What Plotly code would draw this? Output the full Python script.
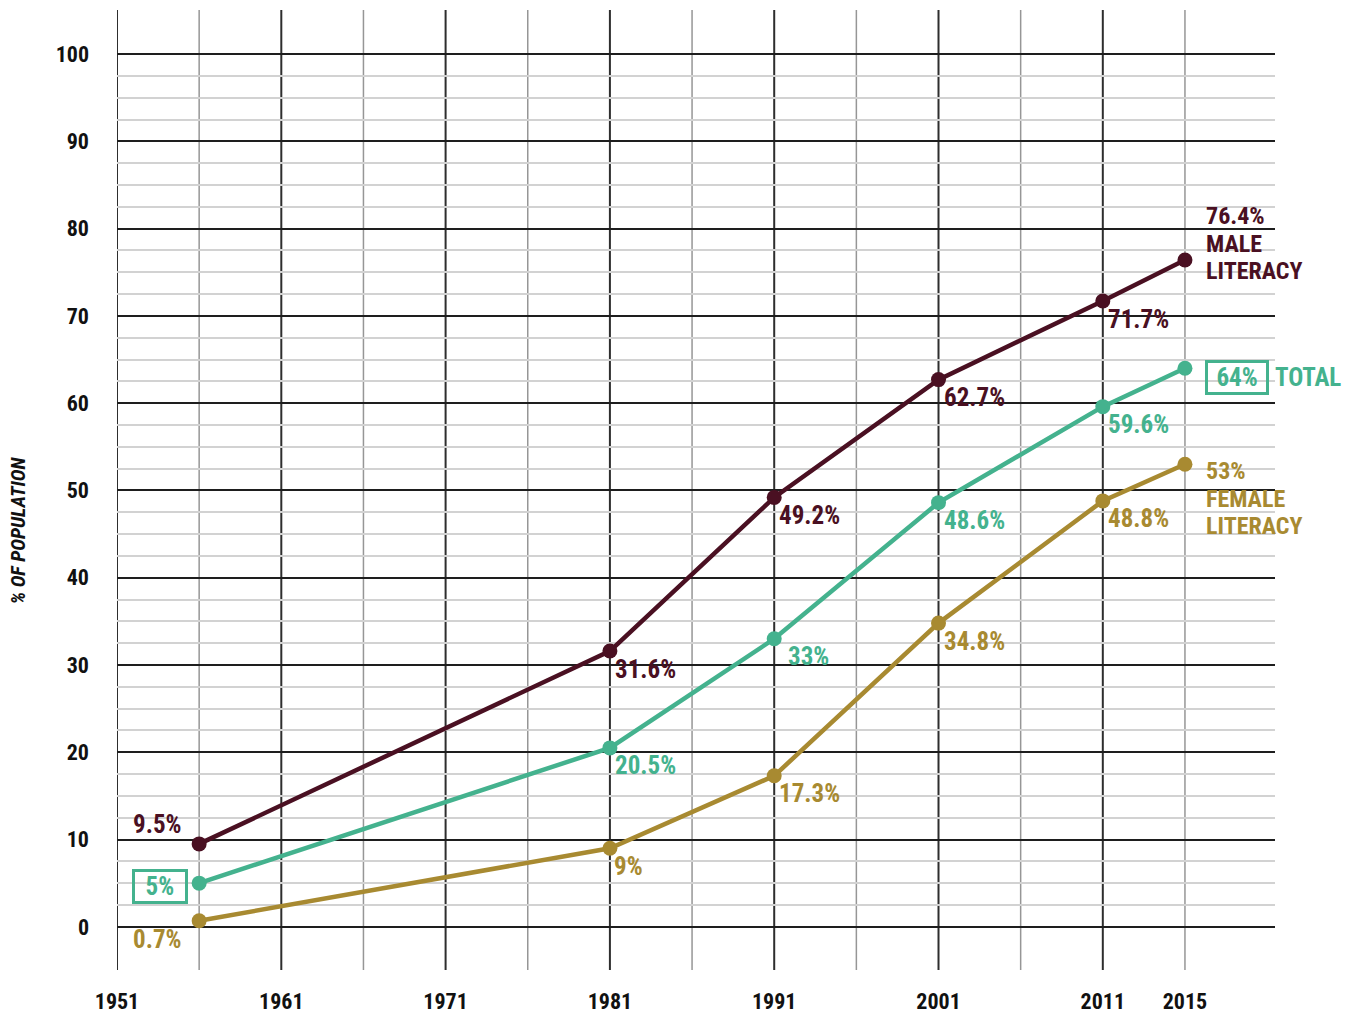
import plotly.graph_objects as go

# ---- data ----
years = [1956, 1981, 1991, 2001, 2011, 2015]
male = [9.5, 31.6, 49.2, 62.7, 71.7, 76.4]
total = [5, 20.5, 33, 48.6, 59.6, 64]
female = [0.7, 9, 17.3, 34.8, 48.8, 53]
tick_years = [1951, 1961, 1971, 1981, 1991, 2001, 2011, 2015]
y_ticks = [0, 10, 20, 30, 40, 50, 60, 70, 80, 90, 100]


def pos(y):
    # the chart's axis gives 2011->2015 the same width as one 5-year slot
    return y if y <= 2011 else 2011 + 5 * (y - 2011) / 4


MAROON = "#4a1022"
TEAL = "#44b28e"
GOLD = "#a88a31"
FONT = "Roboto Condensed, Open Sans Condensed, DejaVu Sans Condensed, sans-serif"

xs = [pos(y) for y in years]

fig = go.Figure()
for vals, col in [(female, GOLD), (total, TEAL), (male, MAROON)]:
    fig.add_trace(go.Scatter(
        x=xs, y=vals, mode="lines+markers",
        line=dict(color=col, width=4.5),
        marker=dict(color=col, size=15),
        hoverinfo="skip", showlegend=False, cliponaxis=False,
    ))

# vertical grid (decades dark, half-decades gray)
for yr in range(1951, 2012, 10):
    fig.add_shape(type="line", xref="x", yref="paper", x0=yr, x1=yr, y0=0, y1=1,
                  line=dict(color="#2e2e2e", width=2), layer="between")
for yr in range(1956, 2017, 10):
    fig.add_shape(type="line", xref="x", yref="paper", x0=yr, x1=yr, y0=0, y1=1,
                  line=dict(color="#969696", width=1.5), layer="between")


def lab(x, y, text, color, xshift=3, yshift=-18, xanchor="left", box=False, size=25):
    d = dict(x=x, y=y, xref="x", yref="y", text=text, showarrow=False,
             xanchor=xanchor, yanchor="middle", xshift=xshift, yshift=yshift,
             font=dict(family=FONT, size=size, color=color, weight="bold"))
    if box:
        d.update(bordercolor=color, borderwidth=3, borderpad=0)
    fig.add_annotation(**d)


def pct(v):
    return f"{v:g}%"


# left-side (first point) labels
lab(xs[0], male[0], pct(male[0]), MAROON, xshift=-15, yshift=19, xanchor="right")
lab(xs[0], total[0], "\u00a0\u2009" + pct(total[0]) + "\u2009\u00a0", TEAL, xshift=-11,
    yshift=-3, xanchor="right", box=True)
lab(xs[0], female[0], pct(female[0]), GOLD, xshift=-15, yshift=-19, xanchor="right")

# middle labels
for i in range(1, 5):
    lab(xs[i], male[i], pct(male[i]), MAROON)
    lab(xs[i], total[i], pct(total[i]), TEAL, xshift=12 if total[i] == 33 else 3)
    lab(xs[i], female[i], pct(female[i]), GOLD, xshift=2 if female[i] == 9 else 3)

# right-end labels
lx = xs[-1]
lab(lx, male[-1], pct(male[-1]), MAROON, xshift=19, yshift=44, size=24)
lab(lx, male[-1], "MALE", MAROON, xshift=19, yshift=16, size=24)
lab(lx, male[-1], "LITERACY", MAROON, xshift=19, yshift=-11, size=24)
lab(lx, total[-1], "\u00a0\u200a" + pct(total[-1]) + "\u200a\u00a0", TEAL, xshift=20,
    yshift=-9, box=True)
lab(lx, total[-1], "TOTAL", TEAL, xshift=88, yshift=-9)
lab(lx, female[-1], pct(female[-1]), GOLD, xshift=19, yshift=-7, size=24)
lab(lx, female[-1], "FEMALE", GOLD, xshift=19, yshift=-35, size=24)
lab(lx, female[-1], "LITERACY", GOLD, xshift=19, yshift=-62, size=24)

# y-axis title
fig.add_annotation(x=-0.0855, y=0.458, xref="paper", yref="paper",
                   xanchor="center", yanchor="middle",
                   text="<i>% OF POPULATION</i>", textangle=-90, showarrow=False,
                   font=dict(family=FONT, size=20, color="#111111", weight="bold"))

minor_y = [v / 2 for v in range(5, 200, 5) if v % 20 != 0]

fig.update_layout(
    width=1349, height=1015,
    margin=dict(l=117, r=74, t=10, b=45, autoexpand=False),
    plot_bgcolor="white", paper_bgcolor="white",
    xaxis=dict(
        range=[1951, 2021.48],
        tickmode="array",
        tickvals=[pos(y) for y in tick_years],
        ticktext=[str(y) for y in tick_years],
        showgrid=False, zeroline=False, showline=False, ticks="",
        automargin=False,
        ticklabelstandoff=16,
        tickfont=dict(family=FONT, size=22, color="#111111", weight="bold"),
    ),
    yaxis=dict(
        range=[-4.95, 105.05],
        tickmode="array", tickvals=y_ticks,
        showgrid=True, gridcolor="#1e1e1e", gridwidth=1.6,
        zeroline=False, showline=False, ticks="",
        automargin=False,
        ticklabelstandoff=27,
        tickfont=dict(family=FONT, size=22, color="#111111", weight="bold"),
        minor=dict(tickmode="array", tickvals=minor_y, showgrid=True,
                   gridcolor="#d2d2d2", gridwidth=1.5),
    ),
)

fig.write_html("out.html", config={"displayModeBar": False},
               post_script="document.body.style.margin='0';")
